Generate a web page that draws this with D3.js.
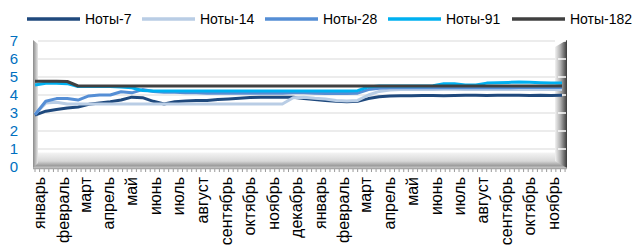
<!DOCTYPE html>
<html>
<head>
<meta charset="utf-8">
<script src="https://cdn.jsdelivr.net/npm/d3@7"></script>
<style>
  body { margin: 0; background: #fff; }
  text { font-family: "Liberation Sans", Arial, sans-serif; }
</style>
</head>
<body>
<div id="chart"></div>
<script>
// biweekly observations, first one on 26 Dec 2009
const startDate = new Date(2009, 11, 26);
const stepDays = 14;

const seriesNames = ["Ноты-7", "Ноты-14", "Ноты-28", "Ноты-91", "Ноты-182"];
const seriesColors = ["#1f497d", "#b9cde5", "#558ed5", "#00b0f0", "#404040"];

const notes7 = [2.88, 3.10, 3.20, 3.28, 3.33, 3.48, 3.55, 3.62, 3.72, 3.88,
                3.85, 3.65, 3.50, 3.62, 3.67, 3.70, 3.70, 3.75, 3.78, 3.82,
                3.86, 3.88, 3.88, 3.88, 3.87, 3.80, 3.75, 3.70, 3.65, 3.62,
                3.65, 3.80, 3.90, 3.95, 3.96, 3.96, 3.97, 3.97, 3.96, 3.97,
                3.98, 3.98, 3.97, 3.98, 3.99, 3.98, 3.97, 3.98, 3.97, 3.98];
const notes14 = [2.95, 3.55, 3.60, 3.50, 3.50, 3.50, 3.50, 3.50, 3.50, 3.50,
                 3.50, 3.50, 3.50, 3.50, 3.50, 3.50, 3.50, 3.50, 3.50, 3.50,
                 3.50, 3.50, 3.50, 3.50, 3.85, 3.88, 3.82, 3.78, 3.70, 3.67,
                 3.70, 4.00, 4.20, 4.28, 4.30, 4.30, 4.30, 4.30, 4.32, 4.32,
                 4.30, 4.30, 4.30, 4.30, 4.30, 4.30, 4.30, 4.30, 4.30, 4.30];
const notes28 = [2.90, 3.65, 3.80, 3.80, 3.72, 3.95, 4.00, 4.00, 4.18, 4.12,
                 4.30, 4.20, 4.15, 4.15, 4.12, 4.12, 4.10, 4.10, 4.10, 4.10,
                 4.10, 4.10, 4.10, 4.10, 4.12, 4.12, 4.10, 4.08, 4.08, 4.08,
                 4.10, 4.30, 4.38, 4.40, 4.40, 4.40, 4.40, 4.40, 4.40, 4.40,
                 4.40, 4.40, 4.40, 4.40, 4.40, 4.41, 4.41, 4.42, 4.42, 4.42];
const notes91 = [4.55, 4.65, 4.65, 4.63, 4.47, 4.47, 4.47, 4.47, 4.45, 4.40,
                 4.25, 4.22, 4.22, 4.22, 4.22, 4.22, 4.22, 4.22, 4.22, 4.22,
                 4.22, 4.22, 4.22, 4.22, 4.22, 4.22, 4.22, 4.22, 4.22, 4.22,
                 4.24, 4.45, 4.50, 4.50, 4.50, 4.50, 4.50, 4.52, 4.62, 4.63,
                 4.55, 4.55, 4.66, 4.68, 4.70, 4.72, 4.71, 4.68, 4.66, 4.67];
const notes182 = [4.77, 4.77, 4.77, 4.75, 4.50, 4.50, 4.50, 4.50, 4.50, 4.50,
                  4.50, 4.50, 4.50, 4.50, 4.50, 4.50, 4.50, 4.50, 4.50, 4.50,
                  4.50, 4.50, 4.50, 4.50, 4.50, 4.50, 4.50, 4.50, 4.50, 4.50,
                  4.50, 4.50, 4.50, 4.50, 4.50, 4.50, 4.50, 4.50, 4.50, 4.50,
                  4.50, 4.50, 4.50, 4.50, 4.50, 4.50, 4.50, 4.50, 4.50, 4.50];

const monthLabels = ["январь", "февраль", "март", "апрель", "май", "июнь", "июль",
                     "август", "сентябрь", "октябрь", "ноябрь", "декабрь",
                     "январь", "февраль", "март", "апрель", "май", "июнь", "июль",
                     "август", "сентябрь", "октябрь", "ноябрь"];
const yTicks = [0, 1, 2, 3, 4, 5, 6, 7];

document.addEventListener("DOMContentLoaded", drawChart);

function drawChart(){
    const width = 633, height = 248;
    const left = 35, right = 562, top = 41, bottom = 167;
    const wallRight = 555;

    const values = [notes7, notes14, notes28, notes91, notes182];
    const dates = notes7.map((v, i) => d3.timeDay.offset(startDate, i * stepDays));

    const svg = d3.select("#chart").append("svg")
        .attr("width", width)
        .attr("height", height);

    const x = d3.scaleTime()
        .domain([dates[0], dates[dates.length - 1]])
        .range([left, right]);
    const y = d3.scaleLinear().domain([0, 7]).range([bottom, top]);

    const defs = svg.append("defs");
    const floorGrad = defs.append("linearGradient").attr("id", "floor")
        .attr("x1", 0).attr("y1", 0).attr("x2", 0).attr("y2", 1);
    floorGrad.append("stop").attr("offset", "0%").attr("stop-color", "#f4f4f4");
    floorGrad.append("stop").attr("offset", "55%").attr("stop-color", "#d8d8d8");
    floorGrad.append("stop").attr("offset", "85%").attr("stop-color", "#9c9c9c");
    floorGrad.append("stop").attr("offset", "100%").attr("stop-color", "#cfcfcf");
    const wallGrad = defs.append("linearGradient").attr("id", "rwall")
        .attr("x1", 0).attr("y1", 0).attr("x2", 1).attr("y2", 0);
    wallGrad.append("stop").attr("offset", "0%").attr("stop-color", "#f2f2f2");
    wallGrad.append("stop").attr("offset", "45%").attr("stop-color", "#b0b0b0");
    wallGrad.append("stop").attr("offset", "100%").attr("stop-color", "#3a3a3a");
    const lwallGrad = defs.append("linearGradient").attr("id", "lwall")
        .attr("x1", 0).attr("y1", 0).attr("x2", 1).attr("y2", 0);
    lwallGrad.append("stop").attr("offset", "0%").attr("stop-color", "#8a8a8a");
    lwallGrad.append("stop").attr("offset", "100%").attr("stop-color", "#e8e8e8");

    // floor
    svg.append("polygon")
        .attr("points", [[left, y(0.8)], [wallRight, y(0.8)], [567, bottom - 3], [567, bottom + 1], [left - 2, bottom + 1]].join(" "))
        .attr("fill", "url(#floor)");

    // gridlines on the back wall
    svg.append("g")
        .selectAll("line")
        .data(yTicks.slice(1))
        .enter()
        .append("line")
        .attr("x1", left + 3)
        .attr("x2", wallRight)
        .attr("y1", d => y(d))
        .attr("y2", d => y(d))
        .attr("stroke", "#e6e6e6")
        .attr("stroke-width", 1.5);

    // right side wall
    svg.append("polygon")
        .attr("points", [[wallRight, top + 6], [567, top - 1], [567, bottom + 1], [wallRight, bottom - 6]].join(" "))
        .attr("fill", "url(#rwall)");
    svg.append("g")
        .selectAll("line")
        .data(yTicks.slice(1))
        .enter()
        .append("line")
        .attr("x1", 558).attr("x2", 566)
        .attr("y1", d => y(d)).attr("y2", d => y(d))
        .attr("stroke", "#ffffff")
        .attr("stroke-width", 1.5);

    // left wall edge
    svg.append("polygon")
        .attr("points", [[left - 2, top - 1], [left + 3, top + 3], [left + 3, bottom - 4], [left - 2, bottom + 1]].join(" "))
        .attr("fill", "url(#lwall)");

    // weekly-ish tick marks under the floor
    const tickDates = d3.timeDay.range(dates[0], d3.timeDay.offset(dates[dates.length - 1], 7), 6);
    svg.append("g")
        .selectAll("line")
        .data(tickDates)
        .enter()
        .append("line")
        .attr("x1", d => x(d)).attr("x2", d => x(d))
        .attr("y1", bottom + 1).attr("y2", bottom + 5)
        .attr("stroke", "#9a9a9a")
        .attr("stroke-width", 1);
    svg.append("line")
        .attr("x1", left - 2).attr("x2", 567)
        .attr("y1", bottom + 1.5).attr("y2", bottom + 1.5)
        .attr("stroke", "#a6a6a6").attr("stroke-width", 1.5);

    // series
    const line = d3.line()
        .x((d, i) => x(dates[i]))
        .y(d => y(d));
    svg.append("g")
        .selectAll("path")
        .data(values)
        .enter()
        .append("path")
        .attr("d", d => line(d))
        .attr("fill", "none")
        .attr("stroke", (d, i) => seriesColors[i])
        .attr("stroke-width", 3)
        .attr("stroke-linejoin", "round");

    // y labels
    svg.append("g")
        .selectAll("text")
        .data(yTicks)
        .enter()
        .append("text")
        .attr("x", 18)
        .attr("y", d => y(d))
        .attr("dy", "0.36em")
        .attr("text-anchor", "end")
        .attr("fill", "#0070c0")
        .style("font-size", "15px")
        .text(d => d);

    // month labels
    const monthStarts = d3.timeMonth.range(new Date(2010, 0, 1), new Date(2011, 10, 2));
    svg.append("g")
        .selectAll("text")
        .data(monthStarts)
        .enter()
        .append("text")
        .attr("transform", d => "translate(" + x(d) + "," + (bottom + 10) + ") rotate(-90)")
        .attr("dy", "0.35em")
        .attr("text-anchor", "end")
        .attr("fill", "#000")
        .style("font-size", "16px")
        .text((d, i) => monthLabels[i]);

    // legend
    const legendX = [27, 142, 265, 388, 512];
    const legend = svg.append("g")
        .selectAll("g")
        .data(seriesNames)
        .enter()
        .append("g")
        .attr("transform", (d, i) => "translate(" + legendX[i] + ",19)");
    legend.append("line")
        .attr("x1", 0).attr("x2", 53)
        .attr("stroke", (d, i) => seriesColors[i])
        .attr("stroke-width", 3.5);
    legend.append("text")
        .attr("x", 58)
        .attr("dy", "0.36em")
        .style("font-size", "14px")
        .attr("fill", "#000")
        .text(d => d);
}
</script>
</body>
</html>
